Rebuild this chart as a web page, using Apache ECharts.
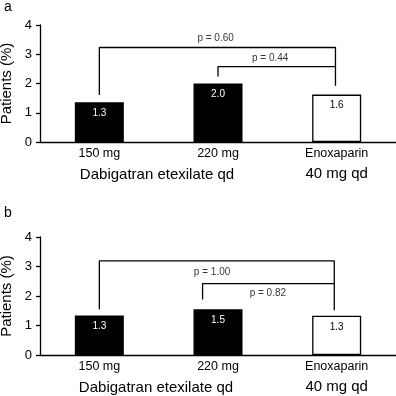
<!DOCTYPE html>
<html>
<head>
<meta charset="utf-8">
<script src="https://cdn.jsdelivr.net/npm/echarts@6/dist/echarts.min.js"></script>
<style>
  html, body { margin: 0; padding: 0; background: #fff; }
  #chart { width: 396px; height: 396px; }
</style>
</head>
<body>
<div id="chart"></div>
<script>
// categories and labels
const categories = ['150 mg', '220 mg', 'Enoxaparin']
const subLabels = ['', '', '40 mg qd']
const groupLabel = 'Dabigatran etexilate qd'
const panelNames = ['a', 'b']

// bar heights and the printed values
const valuesA = [1.36, 2.0, 1.62]
const barLabelsA = ['1.3', '2.0', '1.6']
const valuesB = [1.34, 1.55, 1.33]
const barLabelsB = ['1.3', '1.5', '1.3']

// comparison brackets ([x index, y value])
const outerA = [[0, 1.61], [0, 3.23], [1.99, 3.23], [1.99, 1.92]]
const innerA = [[1, 2.24], [1, 2.58], [1.99, 2.58]]
const pPosA = [[0.98, 3.53], [1.44, 2.85]]
const pTextA = ['p = 0.60', 'p = 0.44']

const outerB = [[0, 1.55], [0, 3.19], [1.98, 3.19], [1.98, 1.52]]
const innerB = [[0.87, 1.88], [0.87, 2.42], [1.98, 2.42]]
const pPosB = [[0.95, 2.79], [1.42, 2.08]]
const pTextB = ['p = 1.00', 'p = 0.82']

const FONT = '"Liberation Sans", Arial, Helvetica, sans-serif'
const grids = [
  { left: 40, top: 25, width: 356, height: 117, outerBoundsMode: 'none', containLabel: false },
  { left: 40, top: 237, width: 356, height: 118, outerBoundsMode: 'none', containLabel: false }
]

function catAxis(gi) {
  return {
    type: 'category',
    gridIndex: gi,
    data: categories,
    axisLine: { onZero: false, lineStyle: { color: '#000', width: 1.3 } },
    axisTick: { length: 4, lineStyle: { color: '#000', width: 1.3 } },
    axisLabel: {
      interval: 0,
      margin: 2,
      color: '#000',
      fontFamily: FONT,
      formatter: function(v, i) {
        return subLabels[i] ? '{t|' + v + '}\n{s|' + subLabels[i] + '}' : '{t|' + v + '}'
      },
      rich: {
        t: { fontSize: 12.5, lineHeight: 20, fontFamily: FONT, color: '#000' },
        s: { fontSize: 15, lineHeight: 20, fontFamily: FONT, color: '#000' }
      }
    }
  }
}

function annotAxis(gi) {
  return { type: 'value', gridIndex: gi, min: -0.5, max: 2.5, show: false }
}

function valAxis(gi) {
  return {
    type: 'value',
    gridIndex: gi,
    min: 0,
    max: 4,
    interval: 1,
    name: 'Patients (%)',
    nameLocation: 'middle',
    nameGap: 26,
    nameTextStyle: { fontSize: 15, fontFamily: FONT, color: '#000' },
    axisLine: { show: true, onZero: false, lineStyle: { color: '#000', width: 1.3 } },
    axisTick: { show: true, length: 4, lineStyle: { color: '#000', width: 1.3 } },
    axisLabel: { fontSize: 13, fontFamily: FONT, color: '#000', margin: 8 },
    splitLine: { show: false }
  }
}

function barSeries(gi, values, labels) {
  return {
    type: 'bar',
    xAxisIndex: gi * 2,
    yAxisIndex: gi,
    barWidth: 49,
    data: values.map(function(v, i) {
      const open = i === 2
      return {
        value: v,
        itemStyle: {
          color: open ? '#fff' : '#000',
          borderColor: '#000',
          borderWidth: open ? 1.3 : 0
        },
        label: { color: open ? '#000' : '#fff' }
      }
    }),
    label: {
      show: true,
      position: 'insideTop',
      distance: 6,
      fontSize: 10,
      fontFamily: FONT,
      formatter: function(p) { return labels[p.dataIndex] }
    }
  }
}

function bracket(gi, pts) {
  return {
    type: 'line',
    xAxisIndex: gi * 2 + 1,
    yAxisIndex: gi,
    data: pts,
    symbol: 'none',
    silent: true,
    lineStyle: { color: '#000', width: 1.3 }
  }
}

function pLabels(gi, pos, texts) {
  return {
    type: 'scatter',
    xAxisIndex: gi * 2 + 1,
    yAxisIndex: gi,
    data: pos,
    symbolSize: 0,
    silent: true,
    label: {
      show: true,
      position: 'inside',
      fontSize: 10,
      fontFamily: FONT,
      color: '#000',
      formatter: function(p) { return texts[p.dataIndex] }
    }
  }
}

const chart = echarts.init(document.getElementById('chart'))
chart.setOption({
  animation: false,
  grid: grids,
  xAxis: [catAxis(0), annotAxis(0), catAxis(1), annotAxis(1)],
  yAxis: [valAxis(0), valAxis(1)],
  graphic: [
    { type: 'text', x: 4, y: 14, style: { text: panelNames[0], fontSize: 14, fontFamily: FONT, fill: '#000', verticalAlign: 'bottom' } },
    { type: 'text', x: 4, y: 220, style: { text: panelNames[1], fontSize: 14, fontFamily: FONT, fill: '#000', verticalAlign: 'bottom' } },
    { type: 'text', x: 157, y: 174.5, style: { text: groupLabel, fontSize: 15, fontFamily: FONT, fill: '#000', align: 'center', verticalAlign: 'middle' } },
    { type: 'text', x: 156, y: 387.5, style: { text: groupLabel, fontSize: 15, fontFamily: FONT, fill: '#000', align: 'center', verticalAlign: 'middle' } }
  ],
  series: [
    barSeries(0, valuesA, barLabelsA),
    bracket(0, outerA),
    bracket(0, innerA),
    pLabels(0, pPosA, pTextA),
    barSeries(1, valuesB, barLabelsB),
    bracket(1, outerB),
    bracket(1, innerB),
    pLabels(1, pPosB, pTextB)
  ]
})
</script>
</body>
</html>
